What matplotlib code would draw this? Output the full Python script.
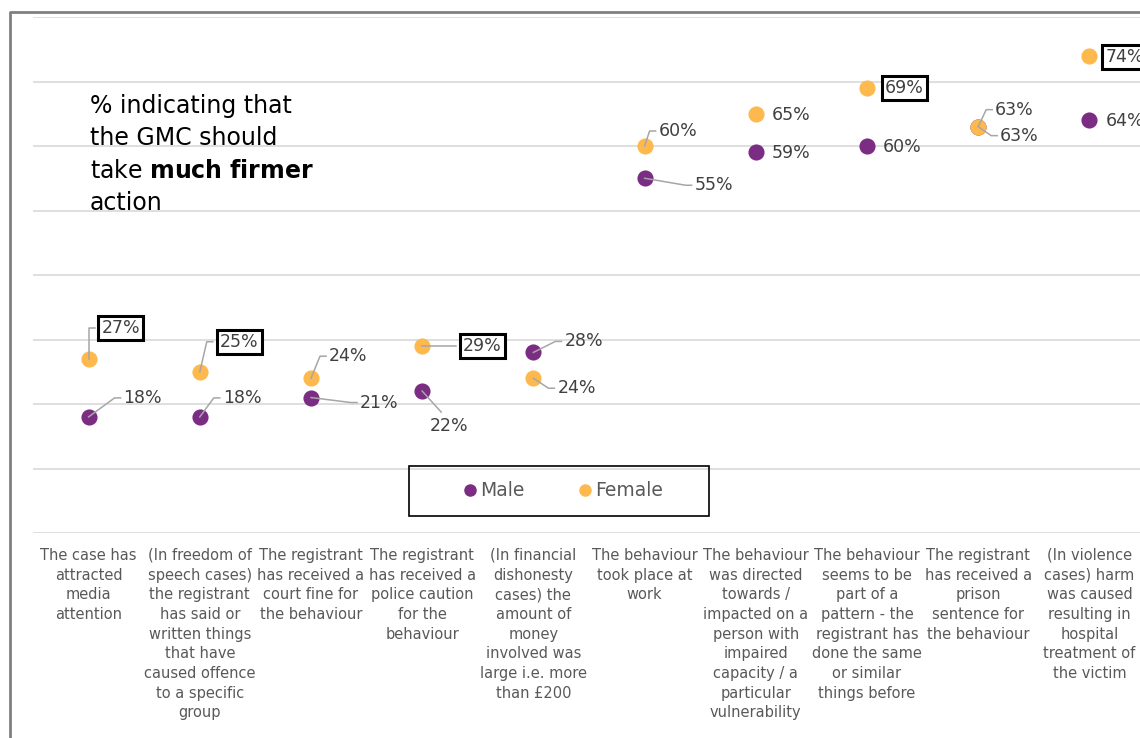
import matplotlib
matplotlib.use("Agg")
import matplotlib.pyplot as plt
from matplotlib.lines import Line2D
from matplotlib.patches import Rectangle
import matplotlib.transforms as mtransforms

categories = [
    "The case has\nattracted\nmedia\nattention",
    "(In freedom of\nspeech cases)\nthe registrant\nhas said or\nwritten things\nthat have\ncaused offence\nto a specific\ngroup",
    "The registrant\nhas received a\ncourt fine for\nthe behaviour",
    "The registrant\nhas received a\npolice caution\nfor the\nbehaviour",
    "(In financial\ndishonesty\ncases) the\namount of\nmoney\ninvolved was\nlarge i.e. more\nthan £200",
    "The behaviour\ntook place at\nwork",
    "The behaviour\nwas directed\ntowards /\nimpacted on a\nperson with\nimpaired\ncapacity / a\nparticular\nvulnerability",
    "The behaviour\nseems to be\npart of a\npattern - the\nregistrant has\ndone the same\nor similar\nthings before",
    "The registrant\nhas received a\nprison\nsentence for\nthe behaviour",
    "(In violence\ncases) harm\nwas caused\nresulting in\nhospital\ntreatment of\nthe victim",
]
male = [18, 18, 21, 22, 28, 55, 59, 60, 63, 64]
female = [27, 25, 24, 29, 24, 60, 65, 69, 63, 74]
female_boxed = [True, True, False, True, False, False, False, True, False, True]

# label layout (pixel offsets of text left edge / centre from the dot; y up)
male_off = [(35, 19), (23, 19), (49, -5), (8, -35), (31, 11), (50, -7), (16, -1), (16, -1), (22, -9), (16, -1)]
female_off = [(13, 31), (20, 30), (18, 22), (41, 0), (24, -10), (14, 15), (16, -1), (18, 0), (17, 17), (16, -1)]
male_leader = [True, True, True, "down", True, True, False, False, True, False]
female_leader = [True, True, True, True, True, True, False, False, True, False]

PURPLE = "#7B2C83"
ORANGE = "#FDB94E"
LEADER = "#A6A6A6"
LABEL = "#404040"

W, H, DPI = 1140, 738, 100
fig = plt.figure(figsize=(W / DPI, H / DPI), dpi=DPI)
fig.patch.set_facecolor("white")

ax = fig.add_axes([33 / W, 1 - 533 / H, 1112 / W, 516 / H])
n = len(categories)
ax.set_xlim(-0.5, n - 0.5)
ax.set_ylim(0, 80)
ax.set_yticks(range(0, 81, 10))
ax.set_xticks([])
ax.tick_params(left=False, labelleft=False)
ax.grid(axis="y", color="#D9D9D9", lw=1.2)
ax.set_axisbelow(True)
for s in ax.spines.values():
    s.set_visible(False)
ax.patch.set_alpha(0)

xs = list(range(n))
ax.scatter(xs, male, s=135, color=PURPLE, zorder=3, linewidths=0)
ax.scatter(xs, female, s=135, color=ORANGE, zorder=3, linewidths=0)

fig.canvas.draw()
ident = mtransforms.IdentityTransform()


def label(x, v, off, boxed, leader):
    dx, dy = off
    kw = dict(xy=(x, v), xytext=(dx, dy), textcoords="offset pixels",
              ha="left", va="center", fontsize=12.5, color=LABEL, zorder=5,
              annotation_clip=False)
    if boxed:
        kw["bbox"] = dict(boxstyle="square,pad=0.18", fc="white", ec="black", lw=2.2)
    ax.annotate(f"{v}%", **kw)
    if not leader:
        return
    px, py = ax.transData.transform((x, v))
    if leader == "down":
        pts = [(px, py), (px + dx + 11, py + dy + 14)]
    else:
        gap = 7 if boxed else 3
        ex = px + dx - gap
        ey = py + dy
        pts = [(px, py), (ex - 6, ey), (ex, ey)]
        if abs(dy) < 2:
            pts = [(px, py), (ex, ey)]
    fig.add_artist(Line2D([p[0] for p in pts], [p[1] for p in pts],
                          transform=ident, color=LEADER, lw=1.1, zorder=4))


for i in range(n):
    label(i, male[i], male_off[i], False, male_leader[i])
    label(i, female[i], female_off[i], female_boxed[i], female_leader[i])

# category labels
tr = mtransforms.blended_transform_factory(ax.transData, ax.transAxes)
for i, c in enumerate(categories):
    ax.text(i, -15 / 516, c, transform=tr, ha="center", va="top",
            fontsize=10.5, color="#595959", linespacing=1.39)

# title text
title_lines = ["% indicating that", "the GMC should",
               "take $\\mathbf{much\\ firmer}$", "action"]
for k, t in enumerate(title_lines):
    fig.text(90 / W, 1 - (106 + 32.4 * k) / H, t, ha="left", va="center",
             fontsize=17, color="black")

# legend
handles = [Line2D([], [], ls="", marker="o", ms=8, color=PURPLE, label="Male"),
           Line2D([], [], ls="", marker="o", ms=8, color=ORANGE, label="Female")]
fig.legend(handles=handles, loc="center", bbox_to_anchor=(563 / W, 1 - 491 / H),
           ncol=2, frameon=False, fontsize=13.5, handletextpad=0.15,
           columnspacing=2.8, handlelength=0.8, labelcolor="#595959")
fig.add_artist(Rectangle((409 / W, 1 - 516 / H), 300 / W, 50 / H,
                         transform=fig.transFigure, fill=False, ec="black", lw=1.2))

# outer frame (top and left visible)
fig.add_artist(Line2D([10 / W, 10 / W, 1.0], [0, 1 - 12 / H, 1 - 12 / H],
                      transform=fig.transFigure, color="#808080", lw=2))

fig.savefig("out.png", dpi=DPI)
